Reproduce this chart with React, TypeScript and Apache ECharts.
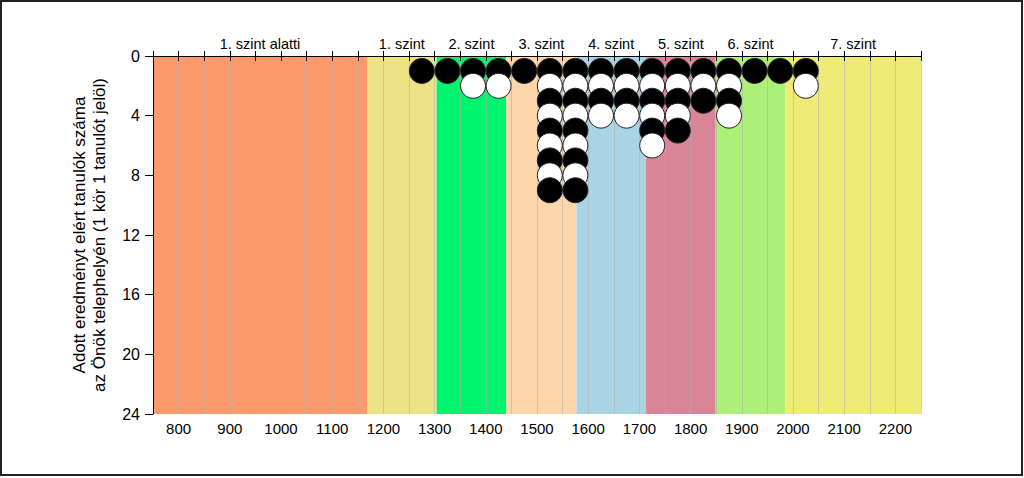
import React, { useEffect, useRef } from "react";
import * as echarts from "echarts";

const levelNames = [
  "1. szint alatti",
  "1. szint",
  "2. szint",
  "3. szint",
  "4. szint",
  "5. szint",
  "6. szint",
  "7. szint",
];
const levelBounds = [750, 1168, 1304, 1440, 1577, 1713, 1849, 1985, 2250];
const levelColors = [
  "#FD9A6C",
  "#EDE286",
  "#00F46E",
  "#FDD6AC",
  "#A8D4E4",
  "#D98597",
  "#ACEF79",
  "#EFEB77",
];

const binCenters = [
  1275, 1325, 1375, 1425, 1475, 1525, 1575, 1625, 1675, 1725, 1775, 1825, 1875,
  1925, 1975, 2025,
];
const studentCounts = [1, 1, 2, 2, 1, 9, 9, 4, 4, 6, 5, 3, 4, 1, 1, 2];

const xMin = 750;
const xMax = 2250;
const yMin = 0;
const yMax = 24;

const FONT = "'Liberation Sans', Arial, sans-serif";

export default function App() {
  const ref = useRef<HTMLDivElement>(null);

  useEffect(() => {
    document.body.style.margin = "0";
    if (!ref.current) return;
    const chart = echarts.init(ref.current, null, { renderer: "svg" });

    const maxCount = Math.max(...studentCounts);
    const points: any[] = [];
    for (let r = 1; r <= maxCount; r++) {
      binCenters.forEach((x, i) => {
        if (studentCounts[i] >= r) {
          const black = r % 2 === 1;
          points.push({
            value: [x, r],
            itemStyle: {
              color: black ? "#000000" : "#FFFFFF",
              borderColor: "#222222",
              borderWidth: 1,
              opacity: 1,
            },
          });
        }
      });
    }

    const areas = levelNames.map((name, i) => [
      {
        xAxis: levelBounds[i],
        name,
        itemStyle: { color: levelColors[i], opacity: 1 },
      },
      { xAxis: levelBounds[i + 1] },
    ]);

    const option: any = {
      animation: false,
      backgroundColor: "#FFFFFF",
      textStyle: { fontFamily: FONT },
      grid: { left: 153, right: 103, top: 56, bottom: 64 },
      graphic: [
        {
          type: "rect",
          shape: { x: 1, y: 1, width: 1021, height: 474 },
          style: { fill: "none", stroke: "#222222", lineWidth: 2 },
          silent: true,
          z: 100,
        },
      ],
      xAxis: [
        {
          type: "value",
          min: xMin,
          max: xMax,
          interval: 50,
          z: 2,
          axisLine: { show: true, lineStyle: { color: "#000", width: 1 } },
          axisTick: { show: true, length: 5, lineStyle: { color: "#000" } },
          axisLabel: {
            color: "#000",
            fontSize: 15,
            fontFamily: FONT,
            margin: 7,
            showMinLabel: true,
            showMaxLabel: true,
            formatter: (v: number) => (v % 100 === 0 ? String(v) : ""),
          },
          splitLine: {
            show: true,
            lineStyle: { color: "rgba(175,175,175,0.55)", width: 1 },
          },
        },
        {
          type: "value",
          position: "top",
          min: xMin,
          max: xMax,
          interval: 50,
          z: 2,
          axisLine: { show: true, lineStyle: { color: "#000", width: 1 } },
          axisTick: { show: true, length: 5, lineStyle: { color: "#000" } },
          axisLabel: { show: false },
          splitLine: { show: false },
        },
      ],
      yAxis: {
        type: "value",
        min: yMin,
        max: yMax,
        interval: 4,
        inverse: true,
        z: 2,
        name: "Adott eredményt elért tanulók száma\naz Önök telephelyén (1 kör 1 tanulót jelöl)",
        nameLocation: "middle",
        nameGap: 44,
        nameTextStyle: {
          color: "#000",
          fontSize: 17,
          lineHeight: 20,
          fontFamily: FONT,
        },
        axisLine: { show: true, lineStyle: { color: "#000", width: 1 } },
        axisTick: { show: true, length: 8, lineStyle: { color: "#000" } },
        axisLabel: { color: "#000", fontSize: 16, fontFamily: FONT, margin: 13 },
        splitLine: { show: false },
      },
      series: [
        {
          type: "line",
          data: [],
          z: 0,
          silent: true,
          markArea: {
            silent: true,
            z: 1,
            label: {
              show: true,
              position: "top",
              distance: 5,
              color: "#000",
              fontSize: 14.5,
              fontFamily: FONT,
            },
            data: areas,
          },
        },
        {
          type: "scatter",
          z: 5,
          symbol: "circle",
          symbolSize: 25,
          itemStyle: { opacity: 1 },
          data: points,
        },
      ],
    };

    chart.setOption(option);
    return () => chart.dispose();
  }, []);

  return <div ref={ref} style={{ width: 1024, height: 478 }} />;
}
